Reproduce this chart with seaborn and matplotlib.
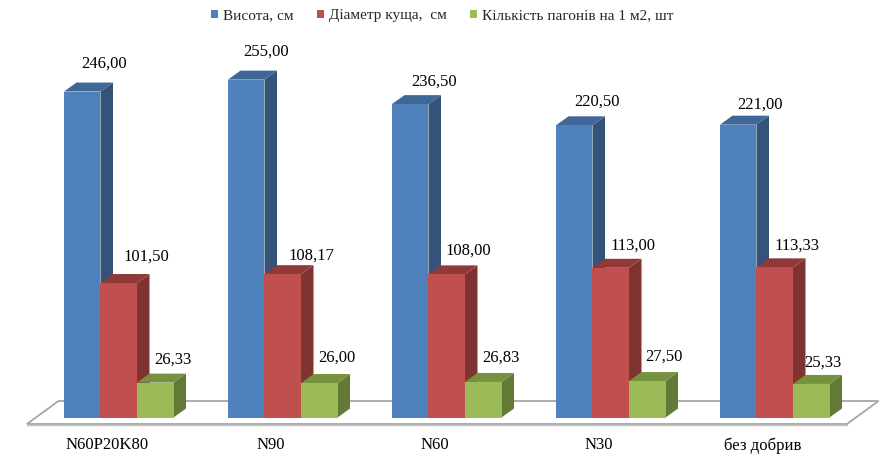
import matplotlib
matplotlib.use("Agg")
import matplotlib.pyplot as plt
from matplotlib.patches import Polygon, Rectangle
import seaborn as sns
import pandas as pd

categories = ["N60P20K80", "N90", "N60", "N30", "без добрив"]
series_names = ["Висота, см", "Діаметр куща,  см", "Кількість пагонів на 1 м2, шт"]
height_cm = [246.00, 255.00, 236.50, 220.50, 221.00]
diameter_cm = [101.50, 108.17, 108.00, 113.00, 113.33]
shoots = [26.33, 26.00, 26.83, 27.50, 25.33]

# front, side, top shades
front_colors = ["#4F81BD", "#C0504D", "#9BBB59"]
side_colors = ["#335378", "#7E3331", "#637A37"]
top_colors = ["#3F6798", "#8F3A38", "#76923F"]

# label shifts from the bar top centre, pixels
label_dx = [[22, 20, 24, 23, 22], [28, 29, 22, 22, 22], [18, 18, 18, 17, 12]]
label_dy = [[28, 28, 22, 24, 20], [26, 19, 24, 22, 22], [23, 25, 24, 24, 21]]

PX_X = 164.0  # pixels per category
PX_Y = 1.325  # pixels per unit

sns.set_theme(style="white")
plt.rcParams["font.family"] = ["Liberation Serif", "DejaVu Sans"]

df = pd.DataFrame({
    "category": categories * 3,
    "series": [s for s in series_names for _ in categories],
    "value": height_cm + diameter_cm + shoots,
})

fig = plt.figure(figsize=(8.9, 4.62), dpi=100)
ax = fig.add_axes([0, 38 / 462, 1, 394 / 462])
sns.barplot(
    data=df, x="category", y="value", hue="series",
    order=categories, hue_order=series_names, palette=front_colors,
    width=0.668, gap=0, errorbar=None, saturation=1, linewidth=0,
    legend=False, ax=ax,
)

ax.set_xlim(-118.75 / PX_X, (890 - 118.75) / PX_X)
ax.set_ylim(-6.5 / PX_Y, 387.5 / PX_Y)
ax.set_xlabel("")
ax.set_ylabel("")
ax.set_yticks([])
for spine in ax.spines.values():
    spine.set_visible(False)

# labels sit under the middle of the floor's front edge
ax.set_xticks([i - 12 / PX_X for i in range(len(categories))], categories)
ax.tick_params(axis="x", length=0, pad=9.5, labelsize=12, labelcolor="black")

depth_x = 12.5 / PX_X
depth_y = 9 / PX_Y

# floor
fl = -91.75 / PX_X
fr = 728.25 / PX_X
back_x = 31.5 / PX_X
back_y = 23 / PX_Y
low = -6.5 / PX_Y
floor = Polygon(
    [(fl, low), (fr, low), (fr + back_x, low + back_y), (fl + back_x, low + back_y)],
    closed=True, facecolor="white", edgecolor="#A6A6A6", linewidth=1.3,
    clip_on=False, zorder=1,
)
ax.add_patch(floor)
ax.plot([fl, fr], [low - 0.5, low - 0.5], color="#C4C4C4", lw=1.0, clip_on=False, zorder=1)

for s, container in enumerate(ax.containers):
    base = 2 + s
    for j, bar in enumerate(container):
        x0 = bar.get_x()
        x1 = x0 + bar.get_width()
        top = bar.get_height()
        bar.set_zorder(base + 0.2)
        ax.add_patch(Polygon(
            [(x1, 0), (x1 + depth_x, depth_y), (x1 + depth_x, top + depth_y), (x1, top)],
            closed=True, facecolor=side_colors[s], edgecolor="none", zorder=base,
        ))
        ax.add_patch(Polygon(
            [(x0, top), (x1, top), (x1 + depth_x, top + depth_y), (x0 + depth_x, top + depth_y)],
            closed=True, facecolor=top_colors[s], edgecolor="none", zorder=base + 0.1,
        ))
        ax.annotate(
            f"{top:.2f}".replace(".", ","),
            xy=((x0 + x1) / 2, top),
            xytext=(label_dx[s][j] * 0.72, label_dy[s][j] * 0.72),
            textcoords="offset points", ha="center", va="center",
            fontsize=12, color="black", zorder=10,
        )

handles = [Rectangle((0, 0), 1, 1, facecolor=c, edgecolor="none") for c in front_colors]
fig.legend(
    handles, series_names, loc="center", bbox_to_anchor=(442 / 890, 1 - 16 / 462),
    ncol=3, frameon=False, fontsize=11, handlelength=0.5, handleheight=0.5,
    handletextpad=0.3, columnspacing=1.5,
)

fig.savefig("out.png", dpi=100)
